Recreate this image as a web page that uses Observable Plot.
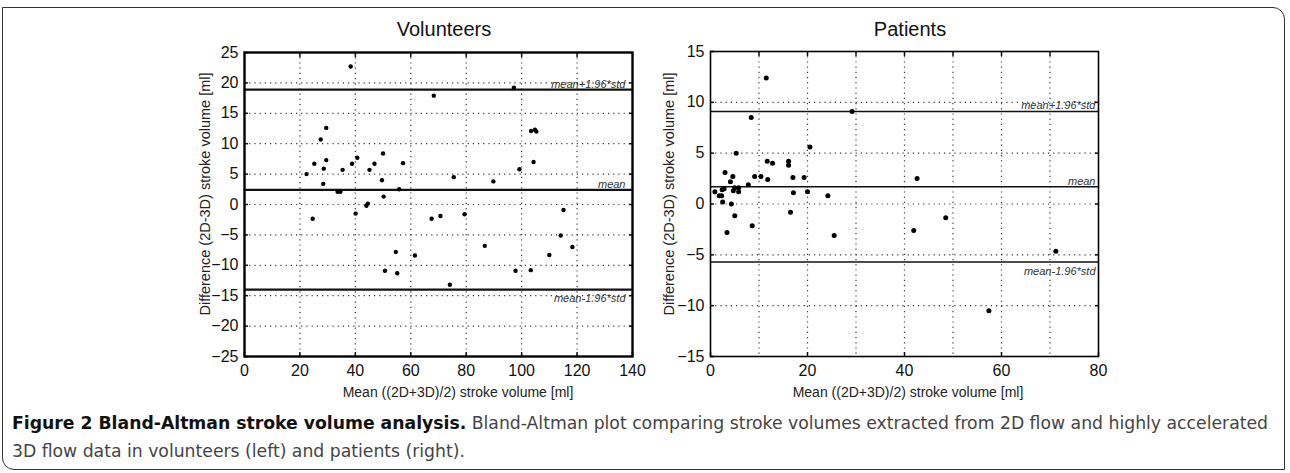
<!DOCTYPE html>
<html>
<head>
<meta charset="utf-8">
<script src="https://cdn.jsdelivr.net/npm/d3@7"></script>
<script src="https://cdn.jsdelivr.net/npm/@observablehq/plot@0.6"></script>
<style>
  html, body { margin: 0; padding: 0; background: #fff; }
  #root { position: relative; width: 1290px; height: 473px; overflow: hidden; font-family: "Liberation Sans", Arial, sans-serif; }
  .box { position: absolute; left: 2px; top: 7px; width: 1283px; height: 463px; border: 1.5px solid #333; border-radius: 0 12px 0 12px; box-sizing: border-box; }
  .panel { position: absolute; top: 0; }
  .title { position: absolute; font-size: 20px; color: #111; transform: translate(-50%, 0); white-space: nowrap; }
  .xlab { position: absolute; font-size: 14px; color: #222; transform: translate(-50%, 0); white-space: nowrap; }
  .ylab { position: absolute; font-size: 14.5px; color: #222; white-space: nowrap; transform: translate(-50%, -50%) rotate(-90deg); }
  .caption { position: absolute; left: 12px; top: 409px; font-family: "DejaVu Sans Condensed", "Liberation Sans Narrow", "Liberation Sans", sans-serif; font-stretch: condensed; font-size: 18px; line-height: 28px; color: #444; white-space: nowrap; transform-origin: 0 0; }
  .caption b { color: #111; }
</style>
</head>
<body>
<div id="root">
  <div class="box"></div>
  <div id="left" class="panel" style="left:190px"></div>
  <div id="right" class="panel" style="left:656px"></div>
  <div class="title" style="left:444px; top:18px">Volunteers</div>
  <div class="title" style="left:910px; top:18px">Patients</div>
  <div class="xlab" style="left:458px; top:384px">Mean ((2D+3D)/2) stroke volume [ml]</div>
  <div class="xlab" style="left:908px; top:384px">Mean ((2D+3D)/2) stroke volume [ml]</div>
  <div class="ylab" style="left:205px; top:194px">Difference (2D-3D) stroke volume [ml]</div>
  <div class="ylab" style="left:669px; top:194px">Difference (2D-3D) stroke volume [ml]</div>
  <div class="caption" id="cap"><span id="cap1"><b>Figure 2 Bland-Altman stroke volume analysis.</b> Bland-Altman plot comparing stroke volumes extracted from 2D flow and highly accelerated</span><br>3D flow data in volunteers (left) and patients (right).</div>
</div>
<script>
// ---- Volunteers data ----
const volMean = [38.3, 68.3, 97.2, 29.5, 27.5, 103.4, 104.8, 105.3, 25.2, 29.5, 28.6, 22.4, 28.4, 35.4, 38.8, 40.7, 45.1, 46.9, 50.0, 49.6, 57.2, 75.5, 89.8, 99.2, 104.3, 33.6, 34.6, 50.2, 55.8, 24.6, 44.0, 44.5, 40.1, 50.7, 54.6, 55.1, 61.5, 67.5, 70.7, 74.1, 79.4, 86.7, 97.8, 103.3, 110.0, 115.1, 114.1, 118.3];
const volDiff = [22.7, 17.9, 19.2, 12.6, 10.7, 12.1, 12.3, 12.0, 6.7, 7.3, 5.9, 5.0, 3.4, 5.7, 6.7, 7.7, 5.7, 6.7, 8.4, 4.0, 6.8, 4.5, 3.8, 5.8, 7.0, 2.1, 2.1, 1.3, 2.5, -2.35, -0.2, 0.15, -1.5, -10.9, -7.8, -11.3, -8.4, -2.35, -1.9, -13.2, -1.6, -6.8, -10.9, -10.8, -8.3, -0.9, -5.1, -7.0];
const volLines = [18.9, 2.4, -14.0];

// ---- Patients data ----
const patMean = [11.5, 8.4, 29.2, 5.3, 20.5, 11.7, 12.8, 16.1, 16.1, 3.0, 4.6, 4.1, 9.1, 10.4, 11.8, 17.0, 19.3, 7.8, 42.6, 2.8, 2.4, 0.9, 5.0, 5.8, 4.7, 5.8, 1.8, 2.3, 2.5, 4.3, 17.1, 20.0, 24.2, 5.0, 8.6, 3.4, 16.5, 25.5, 41.9, 48.5, 71.2, 57.4];
const patDiff = [12.4, 8.5, 9.1, 5.0, 5.6, 4.2, 4.0, 4.2, 3.8, 3.1, 2.7, 2.2, 2.7, 2.7, 2.4, 2.6, 2.6, 1.9, 2.5, 1.5, 1.4, 1.2, 1.6, 1.6, 1.3, 1.2, 0.8, 0.8, 0.2, 0.0, 1.1, 1.2, 0.8, -1.15, -2.15, -2.8, -0.8, -3.1, -2.6, -1.35, -4.65, -10.5];
const patLines = [9.1, 1.7, -5.7];

const lineNames = ["mean+1.96*std", "mean", "mean-1.96*std"];

// ---- axes ----
const volXTicks = [0, 20, 40, 60, 80, 100, 120, 140];
const volYTicks = [-25, -20, -15, -10, -5, 0, 5, 10, 15, 20, 25];
const patXTicks = [0, 20, 40, 60, 80];
const patXGrid = [10, 20, 30, 40, 50, 60, 70];
const patYTicks = [-15, -10, -5, 0, 5, 10, 15];

function bland({xDomain, yDomain, xTicks, xGrid, yTicks, mean, diff, lines, frameW, lineW, r, dxLab, marginTop}) {
  const pts = mean.map((m, i) => ({m, d: diff[i]}));
  const labels = lines.map((v, i) => ({v, name: lineNames[i], below: i === 2}));
  const innerX = xGrid.filter(v => v > xDomain[0] && v < xDomain[1]);
  const innerY = yTicks.filter(v => v > yDomain[0] && v < yDomain[1]);
  const fmt = d => d < 0 ? "\u2212" + Math.abs(d) : String(d);
  const grid = {stroke: "#222", strokeOpacity: 0.9, strokeWidth: 1.2, strokeDasharray: "1.2,4"};
  return Plot.plot({
    width: 460, height: 410,
    marginLeft: 54, marginRight: 18, marginTop: marginTop, marginBottom: 54,
    style: {fontFamily: "'Liberation Sans', Arial, sans-serif", fontSize: "16px", color: "#111", background: "transparent", overflow: "visible"},
    x: {domain: xDomain},
    y: {domain: yDomain},
    marks: [
      Plot.gridX(innerX, grid),
      Plot.gridY(innerY, grid),
      Plot.ruleY(lines, {stroke: "#111", strokeWidth: lineW}),
      Plot.text(labels.filter(d => !d.below), {x: xDomain[1], y: "v", text: "name", textAnchor: "end", lineAnchor: "bottom", dx: dxLab, dy: -2, fontStyle: "italic", fontSize: 11, fill: "#333"}),
      Plot.text(labels.filter(d => d.below), {x: xDomain[1], y: "v", text: "name", textAnchor: "end", lineAnchor: "top", dx: dxLab, dy: 5, fontStyle: "italic", fontSize: 11, fill: "#333"}),
      Plot.dot(pts, {x: "m", y: "d", r: r, fill: "#000", stroke: "none"}),
      Plot.axisX(xTicks, {tickSize: -4, tickPadding: 12, tickFormat: fmt, label: null, strokeWidth: 1.5, fontSize: 16}),
      Plot.axisY(yTicks, {tickSize: -4, tickPadding: 10, tickFormat: fmt, label: null, strokeWidth: 1.5, fontSize: 16}),
      Plot.axisX(innerX, {anchor: "top", tickSize: -4, tickFormat: () => "", label: null, strokeWidth: 1.5}),
      Plot.axisY(innerY, {anchor: "right", tickSize: -4, tickFormat: () => "", label: null, strokeWidth: 1.5}),
      Plot.frame({stroke: "#000", strokeWidth: frameW})
    ]
  });
}

document.getElementById("left").appendChild(bland({
  xDomain: [0, 140], yDomain: [-25, 25], xTicks: volXTicks, xGrid: volXTicks, yTicks: volYTicks,
  mean: volMean, diff: volDiff, lines: volLines, frameW: 2.4, lineW: 2.4, r: 2.2, dxLab: -7, marginTop: 52
}));
document.getElementById("right").appendChild(bland({
  xDomain: [0, 80], yDomain: [-15, 15], xTicks: patXTicks, xGrid: patXGrid, yTicks: patYTicks,
  mean: patMean, diff: patDiff, lines: patLines, frameW: 1.6, lineW: 1.4, r: 2.5, dxLab: -3, marginTop: 51
}));

// fit caption first line to the reference width
const cap = document.getElementById("cap");
const w = document.getElementById("cap1").getBoundingClientRect().width;
if (w > 0) cap.style.transform = `scaleX(${1256 / w})`;
</script>
</body>
</html>
